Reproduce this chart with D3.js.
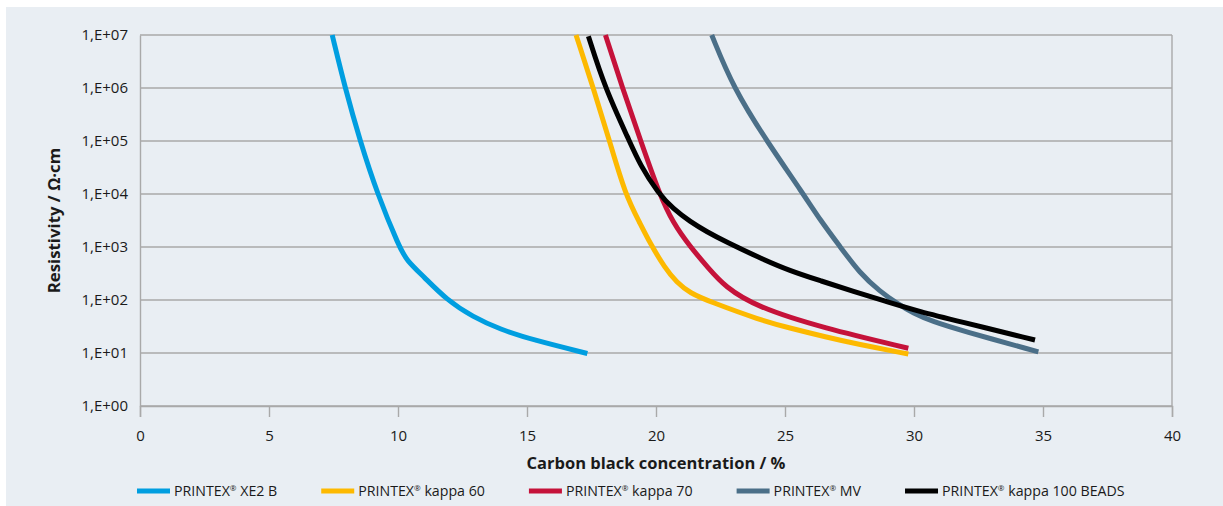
<!DOCTYPE html>
<html>
<head>
<meta charset="utf-8">
<script src="https://cdn.jsdelivr.net/npm/d3@7"></script>
<style>
  html, body { margin: 0; padding: 0; background: #ffffff; }
  svg { display: block; }
  text { font-family: "Open Sans", "Noto Sans", sans-serif; fill: #1a1a1a; }
</style>
</head>
<body>
<svg id="chart" width="1223" height="506"></svg>
<script>
// ---- data ----
const seriesBase = ["PRINTEX", "PRINTEX", "PRINTEX", "PRINTEX", "PRINTEX"];
const seriesSuffix = [" XE2 B", " kappa 60", " kappa 70", " MV", " kappa 100 BEADS"];
const seriesColors = ["#009ee0", "#fdb900", "#c5123a", "#4b6f88", "#000000"];

const xe2bX = [7.45, 7.95, 8.53, 9.2, 10.05, 10.33, 11.0, 11.89, 12.9, 13.95, 15.24, 17.34];
const xe2bY = [1e7, 1e6, 1e5, 1e4, 1e3, 562, 275, 100, 48, 28, 17.6, 9.8];

const kappa60X = [16.9, 17.57, 18.2, 18.8, 19.38, 19.77, 20.35, 20.8, 21.32, 22.09, 24.03, 25.19, 26.6, 27.78, 29.78];
const kappa60Y = [1e7, 1e6, 1e5, 1e4, 2800, 1175, 400, 215, 135, 93, 42, 29.5, 20, 14.8, 9.55];

const kappa70X = [18.04, 18.7, 19.41, 20.13, 20.67, 21.32, 22.03, 22.67, 23.9, 26.48, 29.78];
const kappa70Y = [1e7, 1e6, 1e5, 1e4, 2800, 1020, 400, 178, 74, 29.5, 12.3];

const mvX = [22.16, 23.0, 24.29, 25.71, 26.36, 27.13, 27.91, 28.68, 29.33, 29.97, 30.74, 31.78, 34.82];
const mvY = [1e7, 1e6, 1e5, 1e4, 3240, 1020, 316, 145, 87, 56, 39, 27, 10.5];

const kappa100X = [17.38, 18.02, 18.97, 19.38, 20.09, 20.67, 21.32, 21.96, 22.74, 24.0, 25.19, 26.4, 27.65, 28.94, 30.23, 31.7, 34.69];
const kappa100Y = [9.5e6, 1e6, 1e5, 35500, 10200, 5250, 3020, 1950, 1230, 630, 355, 229, 145, 93, 60, 40, 17.6];

const xTicks = [0, 5, 10, 15, 20, 25, 30, 35, 40];
const yTicks = [1, 10, 100, 1e3, 1e4, 1e5, 1e6, 1e7];
const yTickLabels = ["1,E+00", "1,E+01", "1,E+02", "1,E+03", "1,E+04", "1,E+05", "1,E+06", "1,E+07"];

const xTitle = "Carbon black concentration / %";
const yTitle = "Resistivity / \u03A9\u00B7cm";

// ---- build ----
const seriesX = [xe2bX, kappa60X, kappa70X, mvX, kappa100X];
const seriesY = [xe2bY, kappa60Y, kappa70Y, mvY, kappa100Y];
const series = seriesBase.map((n, i) => ({
  base: n, suffix: seriesSuffix[i], color: seriesColors[i],
  points: seriesX[i].map((x, j) => ({ x: x, y: seriesY[i][j] }))
}));

const svg = d3.select("#chart");
const W = 1223, H = 506;
const plot = { left: 140, right: 1172, top: 35, bottom: 406 };

svg.append("rect").attr("x", 6).attr("y", 7).attr("width", W - 6).attr("height", H - 7).attr("fill", "#e9eef3");

const x = d3.scaleLinear().domain([0, 40]).range([plot.left, plot.right]);
const y = d3.scaleLog().domain([1, 1e7]).range([plot.bottom, plot.top]);

const gridColor = "#a9a9a9";

// grid
svg.append("g").selectAll("line").data(yTicks).join("line")
  .attr("x1", plot.left).attr("x2", plot.right)
  .attr("y1", d => y(d)).attr("y2", d => y(d))
  .attr("stroke", gridColor).attr("stroke-width", 1.4);

// right border
svg.append("line").attr("x1", plot.right).attr("x2", plot.right).attr("y1", plot.top).attr("y2", plot.bottom)
  .attr("stroke", gridColor).attr("stroke-width", 1.4);

// x axis
const xAxis = d3.axisBottom(x).tickValues(xTicks).tickSize(11).tickPadding(13).tickFormat(d3.format("d"));
const gx = svg.append("g").attr("transform", `translate(0,${plot.bottom})`).call(xAxis);
gx.select(".domain").attr("stroke", gridColor).attr("stroke-width", 1.4);
gx.selectAll(".tick line").attr("stroke", gridColor).attr("stroke-width", 1.4);
gx.selectAll(".tick text").attr("font-size", 15).attr("font-family", "Open Sans, sans-serif").attr("fill", "#1a1a1a");

// y axis
const yAxis = d3.axisLeft(y).tickValues(yTicks).tickSize(0).tickPadding(12)
  .tickFormat((d, i) => yTickLabels[i]);
const gy = svg.append("g").attr("transform", `translate(${plot.left},0)`).call(yAxis);
gy.select(".domain").attr("stroke", gridColor).attr("stroke-width", 1.4);
gy.selectAll(".tick text").attr("font-size", 15).attr("font-family", "Open Sans, sans-serif").attr("fill", "#1a1a1a");

// lines
const line = d3.line().x(d => x(d.x)).y(d => y(d.y)).curve(d3.curveBasis);
svg.append("g").selectAll("path").data(series).join("path")
  .attr("d", d => line(d.points))
  .attr("fill", "none").attr("stroke", d => d.color).attr("stroke-width", 5);

// titles
svg.append("text").attr("x", (plot.left + plot.right) / 2).attr("y", 469)
  .attr("text-anchor", "middle").attr("font-size", 16.5).attr("font-weight", "bold").text(xTitle);
svg.append("text").attr("transform", `translate(60,${(plot.top + plot.bottom) / 2}) rotate(-90)`)
  .attr("text-anchor", "middle").attr("font-size", 16.8).attr("font-weight", "bold").text(yTitle);

// legend
const lg = svg.append("g");
let lx = 137;
const ly = 491;
series.forEach(s => {
  lg.append("line").attr("x1", lx).attr("x2", lx + 33).attr("y1", ly).attr("y2", ly)
    .attr("stroke", s.color).attr("stroke-width", 5);
  const t = lg.append("text").attr("x", lx + 37).attr("y", ly).attr("dy", "0.35em")
    .attr("font-size", 14.2);
  t.append("tspan").text(s.base);
  t.append("tspan").attr("font-size", 8).attr("dy", -5).text("\u00AE");
  t.append("tspan").attr("dy", 5).text(s.suffix);
  lx = lx + 37 + t.node().getComputedTextLength() + 44;
});
</script>
</body>
</html>
